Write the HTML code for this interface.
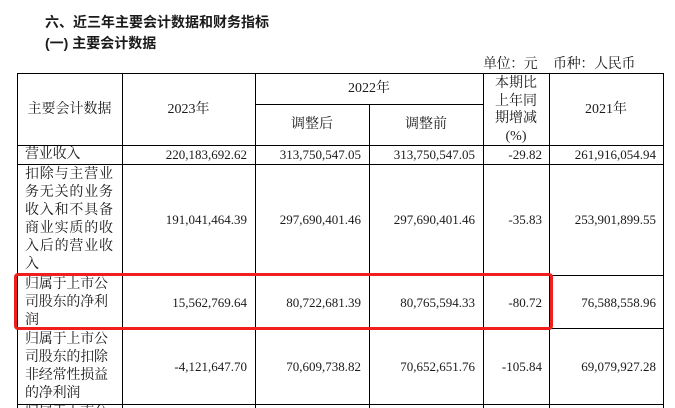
<!DOCTYPE html>
<html style="overflow:hidden;height:408px;"><head><meta charset="utf-8">
<style>
html,body{margin:0;padding:0;background:#fff;}
body{width:675px;height:408px;overflow:hidden;color:#1a1a1a;font-family:"Liberation Serif","Noto Serif CJK SC",serif;}
#w{position:relative;width:675px;height:408px;overflow:hidden;}
.t{position:absolute;white-space:nowrap;font-size:14px;line-height:18px;}
.h{font-family:"Liberation Sans","Noto Sans CJK SC",sans-serif;font-weight:700;font-size:14px;line-height:18px;position:absolute;white-space:nowrap;}
.hl{position:absolute;height:1px;background:#000;}
.vl{position:absolute;width:1px;background:#000;}
.n{position:absolute;font-size:13px;line-height:18px;text-align:right;white-space:nowrap;}
.c{position:absolute;text-align:center;font-size:14px;line-height:18px;white-space:nowrap;}
.lab{position:absolute;left:25px;font-size:14px;line-height:18px;letter-spacing:-0.2px;white-space:nowrap;}
</style></head><body><div id="w">
<div class="h" style="left:45px;top:13px;">六、近三年主要会计数据和财务指标</div>
<div class="h" style="left:45px;top:34px;">(一) 主要会计数据</div>
<div class="t" style="left:483px;top:56px;letter-spacing:-0.4px;">单位：元</div>
<div class="t" style="left:553px;top:56px;letter-spacing:-0.3px;">币种：人民币</div>

<div class="hl" style="left:17px;width:647px;top:73px;"></div>
<div class="hl" style="left:255px;width:228px;top:104px;"></div>
<div class="hl" style="left:17px;width:647px;top:145px;"></div>
<div class="hl" style="left:17px;width:647px;top:164px;"></div>
<div class="hl" style="left:17px;width:647px;top:275px;"></div>
<div class="hl" style="left:17px;width:647px;top:328px;"></div>
<div class="hl" style="left:17px;width:647px;top:404px;"></div>
<div class="vl" style="left:17px;top:73px;height:335px;"></div>
<div class="vl" style="left:122px;top:73px;height:335px;"></div>
<div class="vl" style="left:255px;top:73px;height:335px;"></div>
<div class="vl" style="left:369px;top:104px;height:304px;"></div>
<div class="vl" style="left:483px;top:73px;height:335px;"></div>
<div class="vl" style="left:549px;top:73px;height:335px;"></div>
<div class="vl" style="left:663px;top:73px;height:335px;"></div>

<div class="c" style="left:17px;width:105px;top:101px;">主要会计数据</div>
<div class="c" style="left:122px;width:133px;top:101px;">2023年</div>
<div class="c" style="left:255px;width:228px;top:80px;">2022年</div>
<div class="c" style="left:255px;width:114px;top:116px;">调整后</div>
<div class="c" style="left:369px;width:114px;top:116px;">调整前</div>
<div class="c" style="left:483px;width:66px;top:75px;line-height:17.6px;">本期比<br>上年同<br>期增减<br>(%)</div>
<div class="c" style="left:549px;width:114px;top:101px;">2021年</div>

<div class="lab" style="top:146px;">营业收入</div>
<div class="n" style="right:428px;top:146px;">220,183,692.62</div>
<div class="n" style="right:314px;top:146px;">313,750,547.05</div>
<div class="n" style="right:200px;top:146px;">313,750,547.05</div>
<div class="n" style="right:133px;top:146px;">-29.82</div>
<div class="n" style="right:19px;top:146px;">261,916,054.94</div>

<div class="lab" style="top:166px;letter-spacing:0.8px;">扣除与主营业<br>务无关的业务<br>收入和不具备<br>商业实质的收<br>入后的营业收<br>入</div>
<div class="n" style="right:428px;top:211px;">191,041,464.39</div>
<div class="n" style="right:314px;top:211px;">297,690,401.46</div>
<div class="n" style="right:200px;top:211px;">297,690,401.46</div>
<div class="n" style="right:133px;top:211px;">-35.83</div>
<div class="n" style="right:19px;top:211px;">253,901,899.55</div>

<div class="lab" style="top:276px;">归属于上市公<br>司股东的净利<br>润</div>
<div class="n" style="right:428px;top:294px;">15,562,769.64</div>
<div class="n" style="right:314px;top:294px;">80,722,681.39</div>
<div class="n" style="right:200px;top:294px;">80,765,594.33</div>
<div class="n" style="right:133px;top:294px;">-80.72</div>
<div class="n" style="right:19px;top:294px;">76,588,558.96</div>

<div class="lab" style="top:331px;">归属于上市公<br>司股东的扣除<br>非经常性损益<br>的净利润</div>
<div class="n" style="right:428px;top:358px;">-4,121,647.70</div>
<div class="n" style="right:314px;top:358px;">70,609,738.82</div>
<div class="n" style="right:200px;top:358px;">70,652,651.76</div>
<div class="n" style="right:133px;top:358px;">-105.84</div>
<div class="n" style="right:19px;top:358px;">69,079,927.28</div>

<div class="lab" style="top:404px;">归属于上市公</div>

<div style="position:absolute;left:14px;top:273px;width:539px;height:57px;box-sizing:border-box;border:3.5px solid #f01e1c;border-radius:4px;"></div>
</div></body></html>
